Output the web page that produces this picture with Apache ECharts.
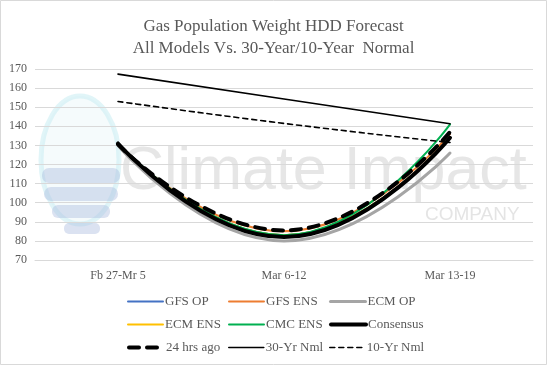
<!DOCTYPE html>
<html><head><meta charset="utf-8">
<script src="https://cdn.jsdelivr.net/npm/echarts@6/dist/echarts.min.js"></script>
<style>html,body{margin:0;padding:0;background:#fff}#c{width:547px;height:365px}</style>
</head><body><div id="c"></div>
<script>
const categories = ['Fb 27-Mr 5', 'Mar 6-12', 'Mar 13-19'];
const yTicks = [70, 170, 10];
const gfsOp = [131, 83, 134];
const gfsEns = [130, 85, 136];
const ecmOp = [130, 80, 126];
const ecmEns = [131, 83, 134];
const cmcEns = [131, 83, 141];
const consensus = [131, 82, 134];
const hrs24 = [130.5, 85.5, 137];
const nml30 = [167.3, 154.3, 141.3];
const nml10 = [153, 141.5, 131.5];

const font = 'Liberation Serif';
const txt = '#595959';
const chart = echarts.init(document.getElementById('c'));

const mk = (name, data, color, width, type) => ({
  name, type: 'line', data, smooth: true, showSymbol: false, symbol: 'none',
  lineStyle: { color, width, type: type || 'solid', cap: 'round' },
  itemStyle: { color }, emphasis: { disabled: true }
});

const series = [
  mk('GFS OP', gfsOp, '#4472C4', 2),
  mk('GFS ENS', gfsEns, '#ED7D31', 2),
  mk('ECM OP', ecmOp, '#A5A5A5', 3),
  mk('ECM ENS', ecmEns, '#FFC000', 2),
  mk('CMC ENS', cmcEns, '#00B050', 2),
  mk('Consensus', consensus, '#000000', 4),
  mk('24 hrs ago', hrs24, '#000000', 4, [10, 8]),
  mk('30-Yr Nml', nml30, '#000000', 1.6),
  mk('10-Yr Nml', nml10, '#000000', 1.6, [5, 4])
];

const cols = [127, 228, 329];
const rows = [295, 318, 341];
const legends = series.map((s, i) => ({
  data: [s.name], left: cols[i % 3], top: rows[Math.floor(i / 3)],
  itemWidth: 35, itemHeight: 14, itemGap: 0, padding: 0,
  itemStyle: { opacity: 0 },
  lineStyle: { color: s.lineStyle.color, width: s.lineStyle.width, type: s.lineStyle.type, cap: 'round' },
  textStyle: { fontFamily: font, fontSize: 13, color: txt, padding: [0, 0, 0, -3] },
  selectedMode: false
}));

const wave = 'rgba(170,186,222,0.42)';
chart.setOption({
  animation: false,
  backgroundColor: '#fff',
  title: {
    text: 'Gas Population Weight HDD Forecast\nAll Models Vs. 30-Year/10-Year  Normal',
    left: 'center', top: 11,
    textStyle: { fontFamily: font, fontSize: 17, fontWeight: 'normal', color: txt, lineHeight: 22 }
  },
  legend: legends,
  grid: { left: 35, right: 14, top: 69, bottom: 105 },
  graphic: [
    { type: 'rect', shape: { x: 0.5, y: 0.5, width: 546, height: 364 }, style: { fill: 'none', stroke: '#d9d9d9', lineWidth: 1 }, z: 100 },
    { type: 'ellipse', shape: { cx: 80, cy: 160, rx: 39, ry: 64 }, style: { fill: 'rgba(235,248,250,0.5)', stroke: 'rgba(200,236,242,0.55)', lineWidth: 5 }, z: -10 },
    { type: 'rect', shape: { x: 42, y: 168, width: 78, height: 15, r: 7 }, style: { fill: wave }, z: -10 },
    { type: 'rect', shape: { x: 44, y: 187, width: 74, height: 14, r: 7 }, style: { fill: wave }, z: -10 },
    { type: 'rect', shape: { x: 52, y: 205, width: 58, height: 13, r: 6 }, style: { fill: wave }, z: -10 },
    { type: 'rect', shape: { x: 64, y: 223, width: 36, height: 11, r: 5 }, style: { fill: wave }, z: -10 },
    { type: 'text', left: 120, top: 142, style: { text: 'Climate Impact', fontFamily: 'Liberation Sans', fontSize: 61, fontWeight: 'normal', fill: 'rgba(195,195,195,0.42)' }, z: -10 },
    { type: 'text', left: 425, top: 205, style: { text: 'COMPANY', fontFamily: 'Liberation Sans', fontSize: 19, fontWeight: 'normal', fill: 'rgba(195,195,195,0.45)' }, z: -10 }
  ],
  xAxis: {
    type: 'category', data: categories, boundaryGap: true,
    axisLine: { show: true, lineStyle: { color: '#d9d9d9' } },
    axisTick: { show: false },
    axisLabel: { fontFamily: font, fontSize: 12, color: txt, margin: 10 }
  },
  yAxis: {
    type: 'value', min: yTicks[0], max: yTicks[1], interval: yTicks[2],
    axisLine: { show: false }, axisTick: { show: false },
    axisLabel: { fontFamily: font, fontSize: 12, color: txt, margin: 8 },
    splitLine: { lineStyle: { color: '#d9d9d9', width: 1 } }
  },
  series
});
</script></body></html>
